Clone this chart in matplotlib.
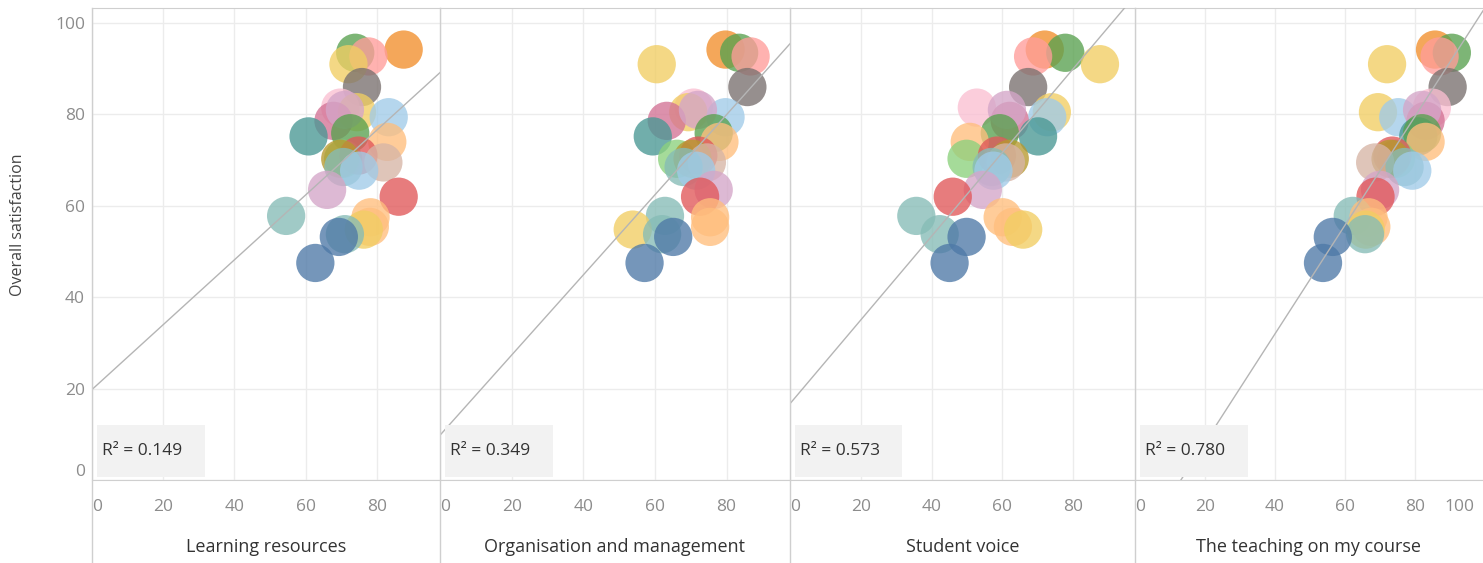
import numpy as np
import matplotlib.pyplot as plt
from matplotlib.lines import Line2D
from matplotlib.patches import Rectangle

plt.rcParams['font.family'] = ['Open Sans', 'DejaVu Sans']

# one bubble per institution, same y and colour in every panel
overall = [94.2, 93.5, 92.7, 91.0, 86.0, 81.5, 80.5, 79.4, 78.6, 81.0,
           75.2, 75.9, 74.0, 70.3, 71.0, 70.3, 69.5, 68.5, 67.7, 63.5,
           62.0, 57.8, 57.5, 55.4, 54.8, 53.8, 53.2, 47.5]
learning = [87.5, 73.9, 77.6, 72.0, 75.8, 69.7, 74.4, 83.3, 67.8, 71.0,
            60.8, 72.5, 82.9, 70.5, 74.8, 69.7, 81.8, 70.6, 75.0, 66.0,
            86.1, 54.5, 78.2, 78.0, 76.3, 71.0, 69.3, 62.7]
organisation = [79.7, 83.5, 86.7, 60.5, 85.8, 70.8, 69.3, 79.7, 63.3, 72.0,
                59.4, 76.4, 78.0, 66.2, 72.1, 70.5, 74.5, 68.0, 71.5, 76.4,
                72.6, 62.8, 75.4, 75.4, 53.8, 62.0, 65.1, 57.1]
voice = [72.0, 77.8, 68.7, 87.6, 67.3, 52.8, 74.0, 72.7, 62.1, 61.3,
         70.1, 59.3, 50.8, 49.9, 58.5, 62.1, 61.0, 57.0, 57.5, 54.5,
         46.0, 35.7, 60.1, 63.0, 65.9, 42.3, 49.9, 45.1]
teaching = [85.7, 90.5, 87.0, 72.0, 89.3, 84.8, 69.4, 75.2, 83.0, 82.0,
            80.9, 82.0, 83.0, 74.5, 73.5, 73.0, 68.6, 77.0, 79.2, 70.0,
            68.7, 62.2, 66.7, 67.5, 65.9, 65.7, 56.5, 53.7]
colors = ['#F28E2B', '#59A14F', '#FF9D9A', '#F1CE63', '#79706E', '#FABFD2', '#F1CE63',
          '#A0CBE8', '#D37295', '#D4A6C8', '#499894', '#59A14F', '#FFBE7D', '#8CD17D',
          '#E15759', '#B6992D', '#D7B5A6', '#86BCB6', '#A0CBE8', '#D4A6C8', '#E15759',
          '#86BCB6', '#FFBE7D', '#FFBE7D', '#F1CE63', '#86BCB6', '#4E79A7', '#4E79A7']

panels = ['Learning resources', 'Organisation and management', 'Student voice',
          'The teaching on my course']
r_squared = ['0.149', '0.349', '0.573', '0.780']
trend_intercept = [19.8, 9.8, 16.7, -15.6]
trend_slope = [0.71, 0.877, 0.916, 1.19]
x_series = [learning, organisation, voice, teaching]

W, H = 1483, 563
fig = plt.figure(figsize=(W / 100, H / 100), dpi=100)

edges = [92, 440, 790, 1135, 1483]
xmax = [97.7, 97.7, 97.5, 99.4]
top_px, bottom_px = 8, 480
grey_line = '#cfcfcf'
tick_col = '#8c8c8c'
tick_size = 12.5

for i in range(4):
    ax = fig.add_axes([edges[i] / W, (H - bottom_px) / H,
                       (edges[i + 1] - edges[i]) / W, (bottom_px - top_px) / H])
    ax.set_xlim(0, xmax[i])
    ax.set_ylim(0, 103.3)
    ax.set_xticks([0, 20, 40, 60, 80])
    ax.set_yticks([0, 20, 40, 60, 80, 100])
    ax.grid(color='#ececec', lw=1)
    ax.set_axisbelow(True)
    for s in ['left', 'right']:
        ax.spines[s].set_visible(False)
    ax.spines['top'].set_color(grey_line)
    ax.spines['bottom'].set_color(grey_line)
    ax.tick_params(length=0, colors=tick_col, labelsize=tick_size)
    ax.tick_params(axis='x', pad=14)
    ax.tick_params(axis='y', pad=5)

    ax.scatter(x_series[i], overall, s=760, c=colors, alpha=0.78,
               linewidths=0, zorder=3)

    xs = np.array([0, xmax[i]])
    ax.plot(xs, trend_intercept[i] + trend_slope[i] * xs, color='#b5b5b5',
            lw=1, zorder=4)

    ax.add_patch(Rectangle((0.014, 0.006), 0.31, 0.11, transform=ax.transAxes,
                           facecolor='#f2f2f2', edgecolor='none', zorder=5))
    ax.text(0.03, 0.062, 'R² = ' + r_squared[i], transform=ax.transAxes,
            fontsize=12.5, color='#333333', va='center', zorder=6)

    ax.set_xlabel(panels[i], fontsize=13, color='#333333', labelpad=16)
    ax.get_xticklabels()[0].set_ha('left')

    if i == 0:
        ax.set_ylabel('Overall satisfaction', fontsize=11.5, color='#444444')
        ax.yaxis.set_label_coords(-0.19, 0.54)
        ax.get_yticklabels()[0].set_va('bottom')
    else:
        ax.set_yticklabels([])
    if i == 3:
        ax.annotate('100', xy=(1, 0), xycoords='axes fraction', xytext=(-6, -14),
                    textcoords='offset points', ha='right', va='top',
                    fontsize=tick_size, color=tick_col)

# panel separators run down through the label area
for px in edges[:4]:
    fig.add_artist(Line2D([px / W, px / W], [0, (H - top_px) / H],
                          color=grey_line, lw=1))

fig.savefig('out.png', dpi=100)
